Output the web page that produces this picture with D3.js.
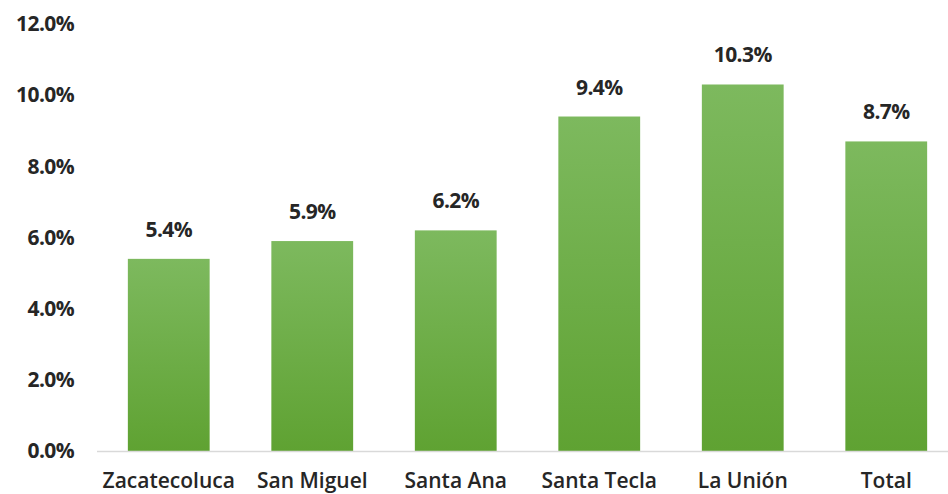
<!DOCTYPE html>
<html>
<head>
<meta charset="utf-8">
<script src="https://cdn.jsdelivr.net/npm/d3@7"></script>
<style>
  body { margin: 0; background: #fff; }
  text { font-family: "Open Sans", sans-serif; fill: #262626; }
</style>
</head>
<body>
<div id="chart"></div>
<script>
// data
const cities = ["Zacatecoluca", "San Miguel", "Santa Ana", "Santa Tecla", "La Unión", "Total"];
const rates = [5.4, 5.9, 6.2, 9.4, 10.3, 8.7];
const yTicks = [0, 2, 4, 6, 8, 10, 12];

const width = 948, height = 494;
const baseY = 451, topY = 24;

let svg = d3.select("#chart")
    .append("svg")
    .attr("width", width)
    .attr("height", height);

let defs = svg.append("defs");
let grad = defs.append("linearGradient")
    .attr("id", "barGrad")
    .attr("x1", 0).attr("y1", 0).attr("x2", 0).attr("y2", 1);
grad.append("stop").attr("offset", "0%").attr("stop-color", "#7db95e");
grad.append("stop").attr("offset", "100%").attr("stop-color", "#5fa232");

let x = d3.scaleBand()
    .domain(cities)
    .range([97, 958])
    .paddingInner(0.43)
    .paddingOuter(0.215);

let y = d3.scaleLinear()
    .domain([0, 12])
    .range([baseY, topY]);

// y axis labels only
svg.append("g")
    .attr("transform", "translate(74,0)")
    .call(d3.axisLeft(y).tickValues(yTicks).tickSize(0).tickPadding(0)
        .tickFormat(d => d.toFixed(1) + "%"))
    .call(g => g.select(".domain").remove())
    .selectAll("text")
      .style("font-size", "21px")
      .style("font-weight", 700)
      .style("font-family", "'Open Sans', sans-serif")
      .style("letter-spacing", "-0.6px")
      .attr("fill", "#262626");

// bars
svg.selectAll("rect.bar")
    .data(cities)
    .enter()
    .append("rect")
      .attr("class", "bar")
      .attr("x", d => x(d))
      .attr("y", (d, i) => y(rates[i]))
      .attr("width", x.bandwidth())
      .attr("height", (d, i) => baseY - y(rates[i]))
      .attr("fill", "url(#barGrad)");

// baseline
svg.append("line")
    .attr("x1", 97).attr("x2", width)
    .attr("y1", baseY + 0.5).attr("y2", baseY + 0.5)
    .attr("stroke", "#d9d9d9")
    .attr("stroke-width", 1.5);

// value labels
svg.selectAll("text.val")
    .data(cities)
    .enter()
    .append("text")
      .attr("class", "val")
      .attr("x", d => x(d) + x.bandwidth() / 2)
      .attr("y", (d, i) => y(rates[i]) - 22)
      .attr("text-anchor", "middle")
      .style("font-size", "21px")
      .style("font-weight", 700)
      .style("letter-spacing", "-0.6px")
      .text((d, i) => rates[i].toFixed(1) + "%");

// category labels
svg.append("g")
    .attr("transform", `translate(0,${baseY})`)
    .call(d3.axisBottom(x).tickSize(0).tickPadding(22))
    .call(g => g.select(".domain").remove())
    .selectAll("text")
      .style("font-size", "21px")
      .style("font-weight", 600)
      .style("font-family", "'Open Sans', sans-serif")
      .attr("fill", "#262626");
</script>
</body>
</html>
